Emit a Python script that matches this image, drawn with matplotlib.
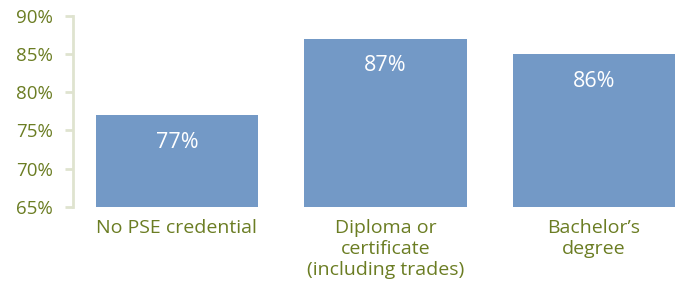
import matplotlib.pyplot as plt

categories = ['No PSE credential', 'Diploma or\ncertificate\n(including trades)', 'Bachelor\u2019s\ndegree']
values = [77, 87, 85]
value_labels = ['77%', '87%', '86%']
yticks = [65, 70, 75, 80, 85, 90]

plt.rcParams['font.family'] = ['Open Sans', 'DejaVu Sans']

green = '#6b7d23'
axis_col = '#dfe3cf'
bar_col = '#7399c6'

fig = plt.figure(figsize=(6.88, 2.88), dpi=100)
ax = fig.add_axes([72.5 / 688, 81.3 / 288, 615.5 / 688, 190.7 / 288])

x = range(len(categories))
bars = ax.bar(x, [v - 65 for v in values], bottom=65, width=0.777, color=bar_col)

for b, lab in zip(bars, value_labels):
    ax.annotate(lab, (b.get_x() + b.get_width() / 2, b.get_y() + b.get_height()),
                xytext=(0, -27), textcoords='offset pixels', ha='center', va='center',
                color='white', fontsize=15.5)

ax.set_ylim(65, 90)
ax.set_xlim(-0.5, 2.45)
ax.set_yticks(yticks)
ax.set_yticklabels([f'{t}%' for t in yticks], color=green, fontsize=13.5)
ax.set_xticks(list(x))
ax.set_xticklabels(categories, color=green, fontsize=14, linespacing=1.2)
ax.tick_params(axis='x', length=0, pad=9)
ax.tick_params(axis='y', length=6, width=2, color=axis_col, pad=8)

for s in ['top', 'right', 'bottom']:
    ax.spines[s].set_visible(False)
ax.spines['left'].set_color(axis_col)
ax.spines['left'].set_linewidth(2)

fig.savefig('out.png', dpi=100)
